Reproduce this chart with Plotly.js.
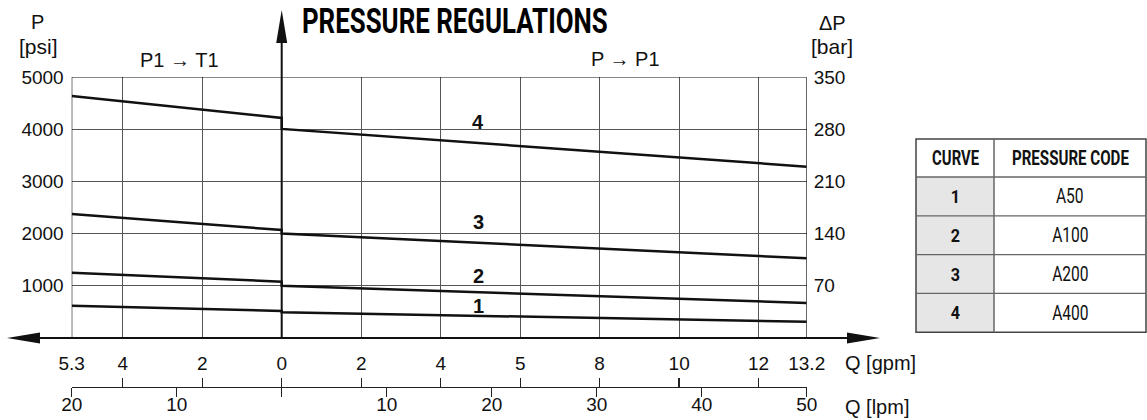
<!DOCTYPE html>
<html><head><meta charset="utf-8">
<script src="https://cdn.plot.ly/plotly-3.0.1.min.js"></script>
<style>html,body{margin:0;padding:0;background:#fff}#chart{width:1147px;height:420px}</style>
</head><body><div id="chart"></div>
<script>
// ---- data (flow in lpm; left side negative = P1 -> T1, right side = P -> P1) ----
const flowLpm = [-20, 0, 0, 50];
const curve1Psi = [619, 517, 492, 312];
const curve2Psi = [1251, 1079, 1002, 670];
const curve3Psi = [2375, 2069, 2000, 1527];
const curve4Psi = [4636, 4215, 4006, 3282];
const curveNames = ['1', '2', '3', '4'];
const curveLabelX = [18.7, 18.7, 18.7, 18.7];
const curveLabelY = [613, 1188, 2222, 4144];

const gpmTickPos = [-20, -15.14, -7.57, 0, 7.57, 15.14, 22.71, 30.28, 37.85, 45.42, 50];
const gpmTickText = ['5.3', '4', '2', '0', '2', '4', '5', '8', '10', '12', '13.2'];
const lpmTickPos = [-20, -10, 0, 10, 20, 30, 40, 50];
const lpmTickText = ['20', '10', '', '10', '20', '30', '40', '50'];
const psiTicks = [1000, 2000, 3000, 4000, 5000];
const barTicks = [70, 140, 210, 280, 350];

const tableHeader = ['CURVE', 'PRESSURE CODE'];
const tableCurves = ['1', '2', '3', '4'];
const tableCodes = ['A50', 'A100', 'A200', 'A400'];

// ---- layout helpers ----
const W = 1147, H = 420;
const px = x => x / W;
const py = y => 1 - y / H;
const FONT = 'Liberation Sans, Arial, sans-serif';
const COND = 'Roboto, Liberation Sans Narrow, sans-serif';
const FS = 19;

const series = [curve1Psi, curve2Psi, curve3Psi, curve4Psi];
const traces = series.map((s, i) => ({
  x: flowLpm, y: s, type: 'scatter', mode: 'lines', name: curveNames[i],
  line: {color: '#111', width: 2.5}, hoverinfo: 'skip', showlegend: false
}));
['x2', 'x3', 'x4'].forEach(ax => traces.push({x: [0], y: [0], xaxis: ax, mode: 'markers', marker: {opacity: 0}, showlegend: false, hoverinfo: 'skip'}));
traces.push({x: [0], y: [0], yaxis: 'y2', mode: 'markers', marker: {opacity: 0}, showlegend: false, hoverinfo: 'skip'});

const xDom = [px(71.7), px(806.7)];
const yDom = [py(338), py(77)];

const shapes = [];
const annotations = [];

// plot border
shapes.push({type: 'rect', xref: 'x', yref: 'y', x0: -20, x1: 50, y0: 0, y1: 5000, line: {color: '#111', width: 1.2}});
// vertical main axis with arrow
shapes.push({type: 'line', xref: 'x', yref: 'paper', x0: 0, x1: 0, y0: py(338), y1: py(40), line: {color: '#111', width: 2}});
shapes.push({type: 'path', xref: 'paper', yref: 'paper', fillcolor: '#111', line: {width: 0},
  path: `M ${px(281.7)} ${py(10)} L ${px(276.2)} ${py(43)} L ${px(287.2)} ${py(43)} Z`});
// horizontal main axis with arrows both ends
shapes.push({type: 'line', xref: 'paper', yref: 'paper', x0: px(30), x1: px(860), y0: py(338), y1: py(338), line: {color: '#111', width: 2}});
shapes.push({type: 'path', xref: 'paper', yref: 'paper', fillcolor: '#111', line: {width: 0},
  path: `M ${px(7)} ${py(338)} L ${px(40)} ${py(332.5)} L ${px(40)} ${py(343.5)} Z`});
shapes.push({type: 'path', xref: 'paper', yref: 'paper', fillcolor: '#111', line: {width: 0},
  path: `M ${px(880)} ${py(338)} L ${px(847)} ${py(332.5)} L ${px(847)} ${py(343.5)} Z`});

// text labels
const condScale = [];  // [annotation index, target width or factor]
const txt = (t, x, y, opts = {}) => { annotations.push(Object.assign({
  text: t, xref: 'paper', yref: 'paper', x: px(x), y: py(y), showarrow: false,
  xanchor: 'center', yanchor: 'middle', font: {family: FONT, size: FS, color: '#111'}
}, opts)); return annotations.length - 1; };
txt('P', 37, 22, {font: {family: FONT, size: 20, color: '#111'}});
txt('[psi]', 38, 46, {font: {family: FONT, size: 21, color: '#111'}});
txt('P1 → T1', 179, 60, {font: {family: FONT, size: 20, color: '#111'}});
txt('P → P1', 625, 59, {font: {family: FONT, size: 20, color: '#111'}});
txt('ΔP', 832, 23, {font: {family: FONT, size: 20, color: '#111'}});
txt('[bar]', 832, 46, {font: {family: FONT, size: 21, color: '#111'}});
txt('Q [gpm]', 843, 363, {xanchor: 'left', font: {family: FONT, size: 20, color: '#111'}});
txt('Q [lpm]', 843, 407, {xanchor: 'left', font: {family: FONT, size: 20, color: '#111'}});
condScale.push([txt('PRESSURE REGULATIONS', 455, 21, {font: {family: COND, size: 35, color: '#000', weight: 'bold'}}), {width: 306}]);

// curve number labels
curveNames.forEach((n, i) => annotations.push({
  text: '<b>' + n + '</b>', xref: 'x', yref: 'y', x: curveLabelX[i], y: curveLabelY[i], showarrow: false,
  font: {family: FONT, size: 20, color: '#111'}
}));

// table
const tL = 916, tM = 994, tR = 1146, tT = 139, tH = 177, rowH = 38.8;
const tB = tH + rowH * tableCurves.length;
shapes.push({type: 'rect', xref: 'paper', yref: 'paper', x0: px(tL), x1: px(tM), y0: py(tB), y1: py(tH), fillcolor: '#e6e6e6', line: {width: 0}, layer: 'below'});
shapes.push({type: 'rect', xref: 'paper', yref: 'paper', x0: px(tL), x1: px(tR), y0: py(tB), y1: py(tT), line: {color: '#444', width: 1.5}});
shapes.push({type: 'line', xref: 'paper', yref: 'paper', x0: px(tM), x1: px(tM), y0: py(tB), y1: py(tT), line: {color: '#666', width: 1.5}});
shapes.push({type: 'line', xref: 'paper', yref: 'paper', x0: px(tL), x1: px(tR), y0: py(tH), y1: py(tH), line: {color: '#666', width: 1.5}});
for (let i = 1; i < tableCurves.length; i++) {
  const y = tH + rowH * i;
  shapes.push({type: 'line', xref: 'paper', yref: 'paper', x0: px(tL), x1: px(tR), y0: py(y), y1: py(y), line: {color: '#666', width: 1.2}});
}
condScale.push([txt(tableHeader[0], (tL + tM) / 2, (tT + tH) / 2, {font: {family: COND, size: 20, color: '#111', weight: 'bold'}}), {width: 47}]);
condScale.push([txt(tableHeader[1], (tM + tR) / 2, (tT + tH) / 2, {font: {family: COND, size: 20, color: '#111', weight: 'bold'}}), {width: 117}]);
tableCurves.forEach((c, i) => {
  const yc = tH + rowH * (i + 0.5);
  condScale.push([txt(c, (tL + tM) / 2, yc, {font: {family: COND, size: 19, color: '#111', weight: 'bold'}}), {factor: 0.85}]);
  condScale.push([txt(tableCodes[i], (tM + tR) / 2, yc, {font: {family: COND, size: 20, color: '#111'}}), {factor: 0.78}]);
});

const tf = {family: FONT, size: FS, color: '#111'};
const layout = {
  width: W, height: H, margin: {l: 0, r: 0, t: 0, b: 0},
  paper_bgcolor: '#fff', plot_bgcolor: '#fff', showlegend: false,
  xaxis: {domain: xDom, range: [-20, 50], tickmode: 'array', tickvals: gpmTickPos, ticktext: gpmTickText,
    showgrid: true, gridcolor: '#555', gridwidth: 1, zeroline: false, showline: false, ticks: '',
    ticklabelstandoff: 12, tickfont: tf},
  // lpm labels
  xaxis2: {domain: xDom, range: [-20, 50], overlaying: 'x', anchor: 'free', position: py(387), side: 'bottom',
    tickmode: 'array', tickvals: lpmTickPos, ticktext: lpmTickText, showgrid: false, zeroline: false,
    showline: false, ticks: '', ticklabelstandoff: 4, tickfont: tf},
  // lpm axis line with downward ticks
  xaxis3: {domain: xDom, range: [-20, 50], overlaying: 'x', anchor: 'free', position: py(387), side: 'bottom',
    tickmode: 'array', tickvals: lpmTickPos, showticklabels: false, showgrid: false, zeroline: false,
    showline: true, linecolor: '#222', linewidth: 1.3, ticks: 'outside', ticklen: 9, tickwidth: 1.3, tickcolor: '#222'},
  // gpm upward ticks on the lpm line
  xaxis4: {domain: xDom, range: [-20, 50], overlaying: 'x', anchor: 'free', position: py(387), side: 'bottom',
    tickmode: 'array', tickvals: gpmTickPos, showticklabels: false, showgrid: false, zeroline: false,
    showline: false, ticks: 'inside', ticklen: 9, tickwidth: 1.3, tickcolor: '#222'},
  yaxis: {domain: yDom, range: [0, 5000], tickmode: 'array', tickvals: psiTicks, showgrid: true, gridcolor: '#555',
    gridwidth: 1, zeroline: false, showline: false, ticks: '', ticklabelstandoff: 7, tickfont: tf},
  yaxis2: {domain: yDom, range: [0, 350], overlaying: 'y', side: 'right', anchor: 'x', tickmode: 'array', tickvals: barTicks,
    showgrid: false, zeroline: false, showline: false, ticks: '', ticklabelstandoff: 6, tickfont: tf},
  shapes: shapes, annotations: annotations
};
Plotly.newPlot('chart', traces, layout, {staticPlot: true}).then(gd => {
  // horizontally condense the bold "condensed" texts (no condensed font installed)
  const groups = gd.querySelectorAll('.annotation');
  condScale.forEach(([idx, spec]) => {
    const g = gd.querySelector('.annotation[data-index="' + idx + '"]') || groups[idx];
    if (!g) return;
    const t = g.querySelector('text');
    if (!t) return;
    const bb = t.getBBox();
    const cx = bb.x + bb.width / 2;
    const s = spec.width ? spec.width / bb.width : spec.factor;
    t.setAttribute('transform', `translate(${cx},0) scale(${s},1) translate(${-cx},0)`);
  });
});
</script></body></html>
